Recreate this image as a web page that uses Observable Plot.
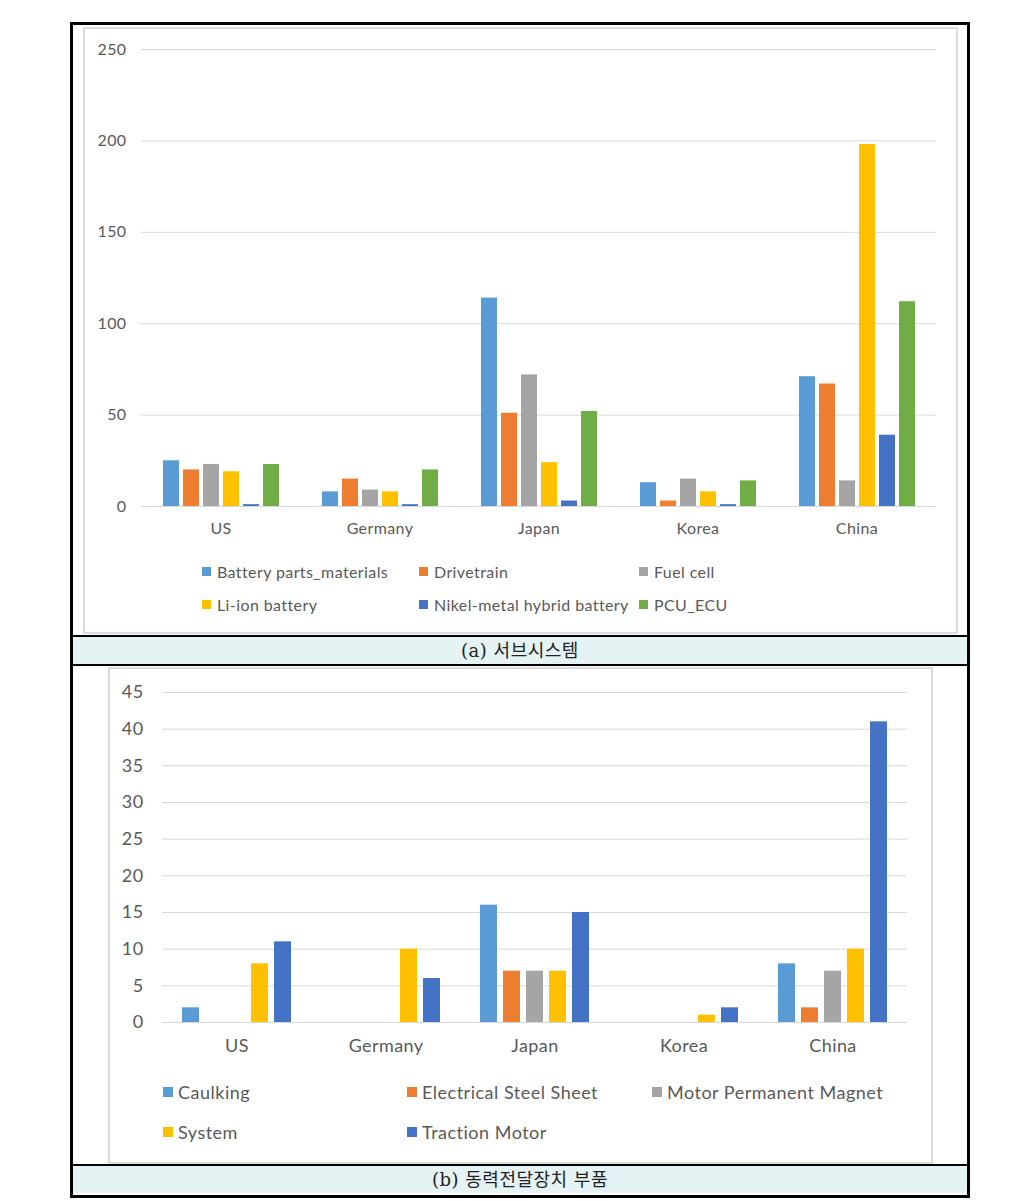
<!DOCTYPE html>
<html>
<head>
<meta charset="utf-8">
<script src="https://cdn.jsdelivr.net/npm/d3@7"></script>
<script src="https://cdn.jsdelivr.net/npm/@observablehq/plot@0.6"></script>
<style>
  html, body { margin: 0; padding: 0; background: #fff; }
  #page { position: relative; width: 1031px; height: 1201px; overflow: hidden; font-family: Lato, "Noto Sans", sans-serif; }
  .abs { position: absolute; box-sizing: border-box; }
  .frame { border: 3px solid #000; }
  .hline { background: #000; height: 2px; }
  .cap { background: #e5f3f5; text-align: center; font-family: "DejaVu Serif", "Noto Sans CJK KR", serif; font-size: 18px; font-weight: normal; color: #222; letter-spacing: 0.5px; }
  .inner { border: 2px solid #dcdcdc; }
  .leg { position: absolute; display: flex; align-items: center; white-space: nowrap; color: #595959; }
  .sw { display: inline-block; }
</style>
</head>
<body>
<div id="page">
  <div class="abs frame" style="left:70px; top:22px; width:900px; height:1176px;"></div>
  <div class="abs inner" style="left:83px; top:27px; width:875px; height:607px;"></div>
  <div class="abs hline" style="left:72px; top:635px; width:897px;"></div>
  <div class="abs cap" style="left:73px; top:637px; width:894px; height:27px; line-height:27px;">(a) 서브시스템</div>
  <div class="abs hline" style="left:72px; top:664px; width:897px;"></div>
  <div class="abs inner" style="left:108px; top:667px; width:825px; height:497px;"></div>
  <div class="abs hline" style="left:72px; top:1164px; width:897px;"></div>
  <div class="abs cap" style="left:73px; top:1166px; width:894px; height:27px; line-height:27px;">(b) 동력전달장치 부품</div>
  <div id="chartA" class="abs" style="left:83px; top:28px;"></div>
  <div id="chartB" class="abs" style="left:108px; top:668px;"></div>
  <div id="legA"></div>
  <div id="legB"></div>
</div>
<script>
// ---------- (a) subsystem data ----------
const categories = ["US", "Germany", "Japan", "Korea", "China"];
const subsystemSeries = ["Battery parts_materials", "Drivetrain", "Fuel cell", "Li-ion battery", "Nikel-metal hybrid battery", "PCU_ECU"];
const subsystemColors = ["#5B9BD5", "#ED7D31", "#A5A5A5", "#FFC000", "#4472C4", "#70AD47"];
const batteryParts = [25, 8, 114, 13, 71];
const drivetrain = [20, 15, 51, 3, 67];
const fuelCell = [23, 9, 72, 15, 14];
const liIonBattery = [19, 8, 24, 8, 198];
const nimhBattery = [1, 1, 3, 1, 39];
const pcuEcu = [23, 20, 52, 14, 112];
const subsystemTicks = [0, 50, 100, 150, 200, 250];

// ---------- (b) power-train parts data ----------
const partSeries = ["Caulking", "Electrical Steel Sheet", "Motor Permanent Magnet", "System", "Traction Motor"];
const partColors = ["#5B9BD5", "#ED7D31", "#A5A5A5", "#FFC000", "#4472C4"];
const caulking = [2, 0, 16, 0, 8];
const steelSheet = [0, 0, 7, 0, 2];
const permanentMagnet = [0, 0, 7, 0, 7];
const systemParts = [8, 10, 7, 1, 10];
const tractionMotor = [11, 6, 15, 2, 41];
const partTicks = [0, 5, 10, 15, 20, 25, 30, 35, 40, 45];

function toRows(seriesNames, arrays) {
  const rows = [];
  seriesNames.forEach((s, i) => categories.forEach((c, j) => rows.push({cat: c, series: s, value: arrays[i][j]})));
  return rows;
}
const dataA = toRows(subsystemSeries, [batteryParts, drivetrain, fuelCell, liIonBattery, nimhBattery, pcuEcu]);
const dataB = toRows(partSeries, [caulking, steelSheet, permanentMagnet, systemParts, tractionMotor]);

const chartA = Plot.plot({
  width: 874, height: 518,
  marginLeft: 57, marginRight: 20, marginTop: 21, marginBottom: 40,
  style: {fontFamily: "Lato, 'Noto Sans', sans-serif", fontSize: "16px", color: "#595959", background: "transparent", overflow: "visible", letterSpacing: "0.4px"},
  fx: {domain: categories, padding: 0, label: null, axis: "bottom", tickSize: 0, tickPadding: 16},
  x: {domain: subsystemSeries, paddingInner: 0.2, paddingOuter: 0.9, axis: null},
  y: {domain: [0, 250], ticks: subsystemTicks, label: null, tickSize: 0, tickPadding: 15},
  color: {domain: subsystemSeries, range: subsystemColors},
  marks: [
    Plot.ruleY(subsystemTicks, {stroke: "#d9d9d9", strokeWidth: 1}),
    Plot.barY(dataA, {fx: "cat", x: "series", y: "value", fill: "series"})
  ]
});
document.getElementById("chartA").appendChild(chartA);

const chartB = Plot.plot({
  width: 824, height: 398,
  marginLeft: 54, marginRight: 25, marginTop: 24, marginBottom: 44,
  style: {fontFamily: "Lato, 'Noto Sans', sans-serif", fontSize: "18px", color: "#595959", background: "transparent", overflow: "visible", letterSpacing: "0.4px"},
  fx: {domain: categories, padding: 0, label: null, axis: "bottom", tickSize: 0, tickPadding: 17},
  x: {domain: partSeries, paddingInner: 0.24, paddingOuter: 0.85, axis: null},
  y: {domain: [0, 45], ticks: partTicks, label: null, tickSize: 0, tickPadding: 19},
  color: {domain: partSeries, range: partColors},
  marks: [
    Plot.ruleY(partTicks, {stroke: "#d9d9d9", strokeWidth: 1}),
    Plot.barY(dataB, {fx: "cat", x: "series", y: "value", fill: "series"})
  ]
});
document.getElementById("chartB").appendChild(chartB);

// ---------- legends ----------
function legend(containerId, names, colors, positions, fontSize, sw, gap, spacing) {
  const host = document.getElementById(containerId);
  names.forEach((n, i) => {
    const [x, y] = positions[i];
    const d = document.createElement("div");
    d.className = "leg";
    d.style.left = x + "px";
    d.style.top = (y - 12) + "px";
    d.style.height = "24px";
    d.style.fontSize = fontSize + "px";
    d.style.letterSpacing = spacing + "px";
    const s = document.createElement("span");
    s.className = "sw";
    s.style.width = sw + "px"; s.style.height = sw + "px";
    s.style.background = colors[i];
    s.style.marginRight = gap + "px";
    d.appendChild(s);
    d.appendChild(document.createTextNode(n));
    host.appendChild(d);
  });
}
legend("legA", subsystemSeries, subsystemColors,
  [[202, 571], [419, 571], [639, 571], [202, 604], [419, 604], [639, 604]], 16, 9, 6, 0.4);
legend("legB", partSeries, partColors,
  [[163, 1092], [407, 1092], [652, 1092], [163, 1132], [407, 1132]], 18, 10, 5, 0.5);
</script>
</body>
</html>
